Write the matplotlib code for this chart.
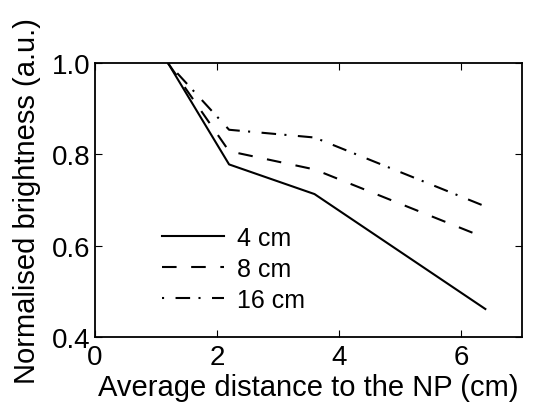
import numpy as np
import matplotlib.pyplot as plt

plt.rcParams['font.family'] = ['Liberation Sans', 'DejaVu Sans']

# Datos
dist = [1.2, 2.2, 3.6, 6.4]
b_4cm = [1.0, 0.778, 0.713, 0.461]
b_8cm = [1.0, 0.807, 0.767, 0.617]
b_16cm = [1.0, 0.854, 0.837, 0.686]
labels = ["4 cm", "8 cm", "16 cm"]

fig = plt.figure(figsize=(5.42, 4.14), dpi=100)
ax = fig.add_axes([0.175, 0.184, 0.788, 0.661])

ax.plot(dist, b_4cm, "-", color="k", lw=1.5, label=labels[0])
ax.plot(dist, b_8cm, color="k", lw=1.5, dashes=(7, 7), label=labels[1])
ax.plot(dist, b_16cm, color="k", lw=1.5, dashes=(1, 5.5, 7, 4), label=labels[2])

ax.set_xlim(0, 7)
ax.set_ylim(0.4, 1.0)
ax.set_xticks([0, 2, 4, 6])
ax.set_yticks([0.4, 0.6, 0.8, 1.0])
ax.set_yticklabels(["0.4", "0.6", "0.8", "1.0"])
ax.tick_params(direction="in", top=True, right=True, labelsize=20, length=5)
ax.tick_params(axis="y", pad=3)
ax.tick_params(axis="x", pad=5.5)
for s in ax.spines.values():
    s.set_linewidth(1.3)

ax.set_xlabel("Average distance to the NP (cm)", fontsize=21, labelpad=2)
ax.set_ylabel("Normalised brightness (a.u.)", fontsize=21, labelpad=8)

ax.legend(loc="center left", bbox_to_anchor=(0.157, 0.248), frameon=False, fontsize=18,
          handlelength=2.5, handletextpad=0.5, labelspacing=0.29, borderpad=0,
          borderaxespad=0)

fig.savefig("out.png", dpi=100)
